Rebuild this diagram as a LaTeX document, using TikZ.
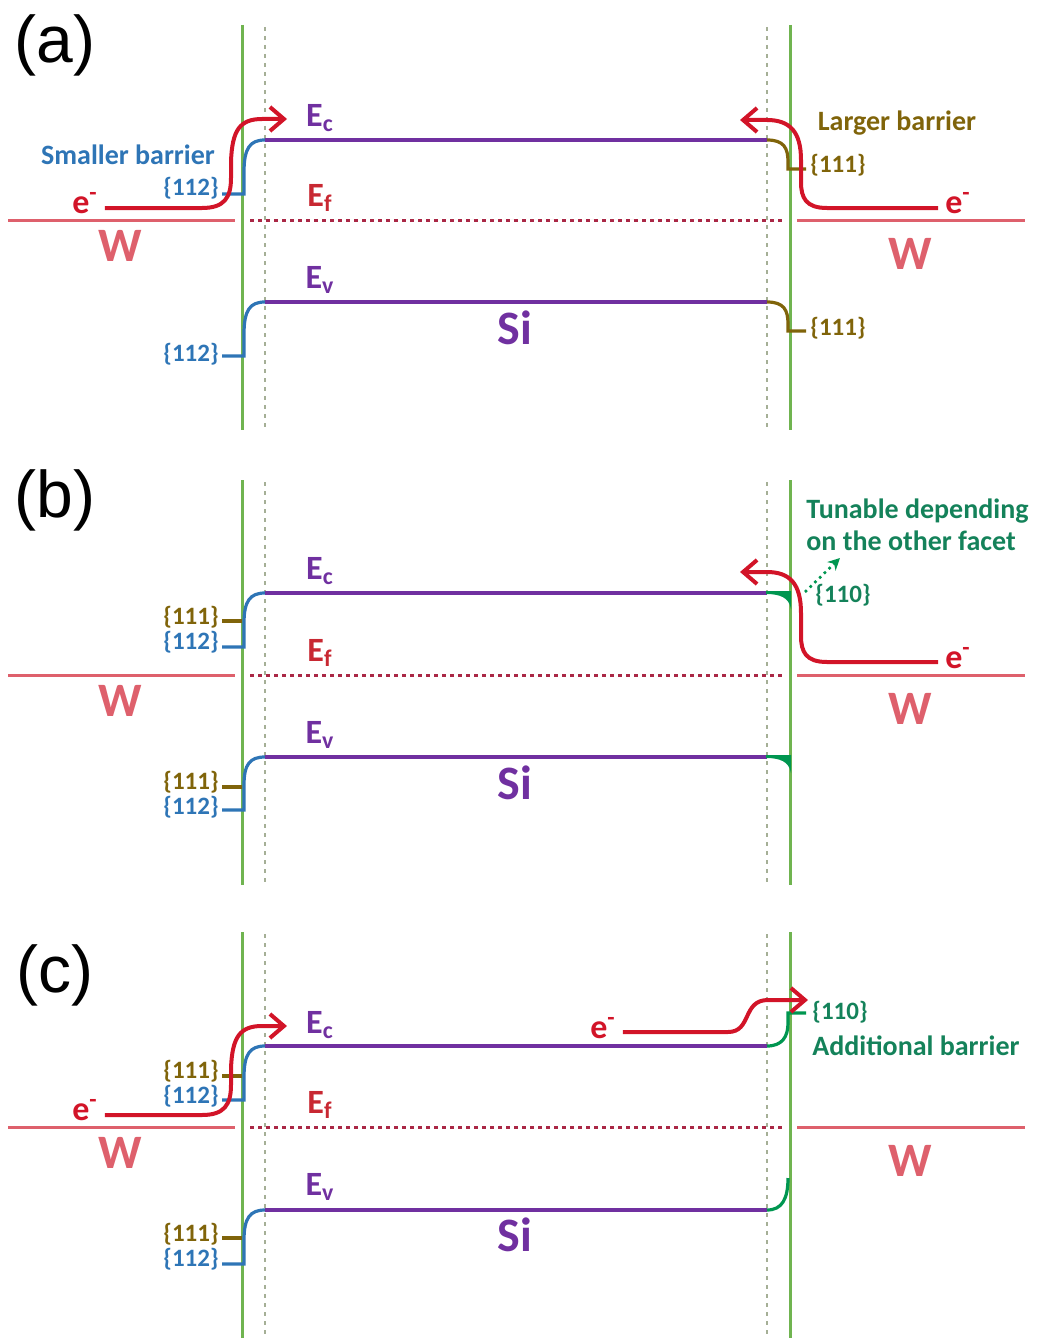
\documentclass[tikz,border=0pt]{standalone}
\usepackage{fontspec}
\setmainfont{Carlito}
\newfontfamily\tagfont{Liberation Sans}
\usetikzlibrary{arrows.meta}

\definecolor{bandpurple}{RGB}{112,48,160}
\definecolor{metalred}{RGB}{222,96,108}
\definecolor{fermired}{RGB}{170,40,70}
\definecolor{eflabel}{RGB}{200,40,50}
\definecolor{arrowred}{RGB}{210,20,40}
\definecolor{ifacegreen}{RGB}{112,180,80}
\definecolor{edgegray}{RGB}{165,175,150}
\definecolor{facetblue}{RGB}{46,117,182}
\definecolor{facetolive}{RGB}{128,100,10}
\definecolor{facetgreen}{RGB}{0,150,80}
\definecolor{noteteal}{RGB}{20,130,90}

\tikzset{
    level/.style = {
        line width=1.6pt,
        bandpurple,
    },
    metal/.style = {
        line width=1.5pt,
        metalred
    },
    fermi/.style = {
        line width=1.5pt,
        fermired,
        dash pattern=on 2pt off 2pt
    },
    iface/.style = {
        line width=1.5pt,
        ifacegreen
    },
    edge/.style = {
        line width=0.8pt,
        edgegray,
        dash pattern=on 2pt off 2.5pt
    },
    facetA/.style = {line width=1.6pt, facetblue},
    facetB/.style = {line width=1.6pt, facetolive},
    facetC/.style = {line width=1.6pt, facetgreen},
    electron/.style = {
        line width=2pt,
        arrowred,
        -{Straight Barb[length=7pt,width=12pt]}
    },
    lbl/.style = {
        font=\bfseries\fontsize{14}{16}\selectfont,
        inner sep=1pt
    },
    facet/.style = {
        font=\bfseries\fontsize{12.5}{14}\selectfont,
        inner sep=0pt
    },
    energy/.style = {
        font=\bfseries\fontsize{17}{19}\selectfont
    },
    big/.style = {
        font=\bfseries\fontsize{24}{26}\selectfont
    },
    tag/.style = {
        font=\tagfont\fontsize{33}{36}\selectfont
    }
}

\begin{document}
\begin{tikzpicture}[x=0.5pt,y=-0.5pt]
    \useasboundingbox (0,0) rectangle (1038,1338);
    % vertical offsets of the three panels
    \newcommand\YA{0}
    \newcommand\YB{455}
    \newcommand\YC{907}

    %(a)
    \node[tag] (tagA) at (55,\YA+45) {(a)};
    \draw[iface] (242,\YA+25) -- (242,\YA+430) (790,\YA+25) -- (790,\YA+430);
    \draw[edge] (265,\YA+27) -- (265,\YA+430) (767,\YA+27) -- (767,\YA+430);
    %W and Ef
    \draw[metal] (8,\YA+220) -- (235,\YA+220) (797,\YA+220) -- (1025,\YA+220);
    \draw[fermi] (250,\YA+220) -- (782,\YA+220);
    \node[big, metalred] (wAl) at (120,\YA+246) {W};
    \node[big, metalred] (wAr) at (910,\YA+254) {W};
    %Ec
    \draw[facetA] (222,\YA+194) -- (244,\YA+194) -- (244,\YA+172) .. controls (244,\YA+148) and (250,\YA+140) .. (265,\YA+140);
    \draw[level] (265,\YA+140) -- (767,\YA+140);
    \draw[facetB] (767,\YA+140) .. controls (784,\YA+140) and (788,\YA+148) .. (788,\YA+162) -- (788,\YA+169) -- (806,\YA+169);
    %Ev
    \draw[facetA] (222,\YA+356) -- (244,\YA+356) -- (244,\YA+334) .. controls (244,\YA+310) and (250,\YA+302) .. (265,\YA+302);
    \draw[level] (265,\YA+302) -- (767,\YA+302);
    \draw[facetB] (767,\YA+302) .. controls (784,\YA+302) and (788,\YA+310) .. (788,\YA+324) -- (788,\YA+331) -- (806,\YA+331);
    %labels
    \node[energy, bandpurple] (ecA) at (320,\YA+118) {E\textsubscript{c}};
    \node[energy, eflabel] (efA) at (320,\YA+198) {E\textsubscript{f}};
    \node[energy, bandpurple] (evA) at (320,\YA+280) {E\textsubscript{v}};
    \node[big, bandpurple] (siA) at (515,\YA+328) {Si};
    \node[lbl, facetblue] (smallA) at (128,\YA+155) {Smaller barrier};
    \node[facet, facetblue, anchor=east] (cbA) at (219,\YA+188) {\{112\}};
    \node[facet, facetblue, anchor=east] (vbA) at (219,\YA+354) {\{112\}};
    \node[lbl, facetolive] (largeA) at (897,\YA+123) {Larger barrier};
    \node[facet, facetolive, anchor=west] (cfA) at (810,\YA+165) {\{111\}};
    \node[facet, facetolive, anchor=west] (vfA) at (810,\YA+328) {\{111\}};
    %electrons
    \node[energy, arrowred] (elA) at (85,\YA+203) {e\textsuperscript{-}};
    \node[energy, arrowred] (erA) at (958,\YA+203) {e\textsuperscript{-}};
    \draw[electron] (elA.east |- 0,\YA+208) -- (202,\YA+208) .. controls (224,\YA+208) and (231,\YA+198) .. (231,\YA+178) -- (231,\YA+162) .. controls (232,\YA+130) and (240,\YA+119) .. (262,\YA+119) -- (287,\YA+119);
    \draw[electron] (erA.west |- 0,\YA+208) -- (827,\YA+208) .. controls (806,\YA+208) and (801,\YA+198) .. (801,\YA+182) -- (801,\YA+160) .. controls (801,\YA+132) and (790,\YA+120) .. (767,\YA+120) -- (740,\YA+120);

    %(b)
    \node[tag] (tagB) at (55,\YB+45) {(b)};
    \draw[iface] (242,\YB+25) -- (242,\YB+430) (790,\YB+25) -- (790,\YB+430);
    \draw[edge] (265,\YB+27) -- (265,\YB+430) (767,\YB+27) -- (767,\YB+430);
    %W and Ef
    \draw[metal] (8,\YB+220) -- (235,\YB+220) (797,\YB+220) -- (1025,\YB+220);
    \draw[fermi] (250,\YB+220) -- (782,\YB+220);
    \node[big, metalred] (wBl) at (120,\YB+246) {W};
    \node[big, metalred] (wBr) at (910,\YB+254) {W};
    %Ec
    \draw[facetB] (222,\YB+166) -- (242,\YB+166);
    \draw[facetA] (222,\YB+192) -- (244,\YB+192) -- (244,\YB+168) .. controls (244,\YB+146) and (250,\YB+138) .. (265,\YB+138);
    \draw[level] (265,\YB+138) -- (767,\YB+138);
    \fill[facetgreen] (766,\YB+136) -- (791,\YB+136) -- (791,\YB+154) .. controls (789,\YB+142) and (779,\YB+139) .. (766,\YB+139) -- cycle;
    %Ev
    \draw[facetB] (222,\YB+332) -- (242,\YB+332);
    \draw[facetA] (222,\YB+355) -- (244,\YB+355) -- (244,\YB+330) .. controls (244,\YB+309) and (250,\YB+302) .. (265,\YB+302);
    \draw[level] (265,\YB+302) -- (767,\YB+302);
    \fill[facetgreen] (766,\YB+300) -- (791,\YB+300) -- (791,\YB+318) .. controls (789,\YB+306) and (779,\YB+303) .. (766,\YB+303) -- cycle;
    %labels
    \node[energy, bandpurple] (ecB) at (320,\YB+116) {E\textsubscript{c}};
    \node[energy, eflabel] (efB) at (320,\YB+198) {E\textsubscript{f}};
    \node[energy, bandpurple] (evB) at (320,\YB+280) {E\textsubscript{v}};
    \node[big, bandpurple] (siB) at (515,\YB+328) {Si};
    \node[facet, facetolive, anchor=east] (cbB1) at (219,\YB+162) {\{111\}};
    \node[facet, facetblue, anchor=east] (cbB2) at (219,\YB+187) {\{112\}};
    \node[facet, facetolive, anchor=east] (vbB1) at (219,\YB+327) {\{111\}};
    \node[facet, facetblue, anchor=east] (vbB2) at (219,\YB+352) {\{112\}};
    \node[facet, noteteal, anchor=west] (cfB) at (815,\YB+140) {\{110\}};
    \node[lbl, noteteal, align=left, anchor=west] (tuneB) at (804,\YB+70) {Tunable depending\\on the other facet};
    \draw[facetC, line width=1.3pt, dotted, -{Stealth[length=6pt,width=6pt]}] (805,\YB+137) -- (840,\YB+103);
    %electron
    \node[energy, arrowred] (erB) at (958,\YB+203) {e\textsuperscript{-}};
    \draw[electron] (erB.west |- 0,\YB+207) -- (827,\YB+207) .. controls (806,\YB+207) and (801,\YB+197) .. (801,\YB+181) -- (801,\YB+158) .. controls (801,\YB+129) and (790,\YB+117) .. (767,\YB+117) -- (740,\YB+117);

    %(c)
    \node[tag] (tagC) at (55,\YC+68) {(c)};
    \draw[iface] (242,\YC+25) -- (242,\YC+431) (790,\YC+25) -- (790,\YC+431);
    \draw[edge] (265,\YC+27) -- (265,\YC+431) (767,\YC+27) -- (767,\YC+431);
    %W and Ef
    \draw[metal] (8,\YC+220) -- (235,\YC+220) (797,\YC+220) -- (1025,\YC+220);
    \draw[fermi] (250,\YC+220) -- (782,\YC+220);
    \node[big, metalred] (wCl) at (120,\YC+246) {W};
    \node[big, metalred] (wCr) at (910,\YC+254) {W};
    %Ec
    \draw[facetB] (222,\YC+169) -- (242,\YC+169);
    \draw[facetA] (222,\YC+193) -- (244,\YC+193) -- (244,\YC+170) .. controls (244,\YC+147) and (250,\YC+139) .. (265,\YC+139);
    \draw[level] (265,\YC+139) -- (767,\YC+139);
    \draw[facetC] (767,\YC+139) .. controls (782,\YC+139) and (788,\YC+130) .. (788,\YC+116) -- (788,\YC+106) -- (806,\YC+106);
    %Ev
    \draw[facetB] (222,\YC+331) -- (242,\YC+331);
    \draw[facetA] (222,\YC+357) -- (244,\YC+357) -- (244,\YC+333) .. controls (244,\YC+311) and (250,\YC+303) .. (265,\YC+303);
    \draw[level] (265,\YC+303) -- (767,\YC+303);
    \draw[facetC] (767,\YC+303) .. controls (782,\YC+303) and (788,\YC+292) .. (788,\YC+271);
    %labels
    \node[energy, bandpurple] (ecC) at (320,\YC+118) {E\textsubscript{c}};
    \node[energy, eflabel] (efC) at (320,\YC+198) {E\textsubscript{f}};
    \node[energy, bandpurple] (evC) at (320,\YC+280) {E\textsubscript{v}};
    \node[big, bandpurple] (siC) at (515,\YC+328) {Si};
    \node[facet, facetolive, anchor=east] (cbC1) at (219,\YC+164) {\{111\}};
    \node[facet, facetblue, anchor=east] (cbC2) at (219,\YC+189) {\{112\}};
    \node[facet, facetolive, anchor=east] (vbC1) at (219,\YC+327) {\{111\}};
    \node[facet, facetblue, anchor=east] (vbC2) at (219,\YC+352) {\{112\}};
    \node[facet, noteteal, anchor=west] (cfC) at (812,\YC+105) {\{110\}};
    \node[lbl, noteteal, anchor=west] (addC) at (810,\YC+139) {Additional barrier};
    %electrons
    \node[energy, arrowred] (elC) at (85,\YC+203) {e\textsuperscript{-}};
    \node[energy, arrowred] (erC) at (603,\YC+121) {e\textsuperscript{-}};
    \draw[electron] (elC.east |- 0,\YC+208) -- (202,\YC+208) .. controls (224,\YC+208) and (231,\YC+198) .. (231,\YC+178) -- (231,\YC+162) .. controls (232,\YC+130) and (240,\YC+119) .. (262,\YC+119) -- (287,\YC+119);
    \draw[electron] (erC.east |- 0,\YC+125) -- (728,\YC+125) .. controls (752,\YC+125) and (742,\YC+93) .. (768,\YC+93) -- (808,\YC+93);
\end{tikzpicture}
\end{document}
